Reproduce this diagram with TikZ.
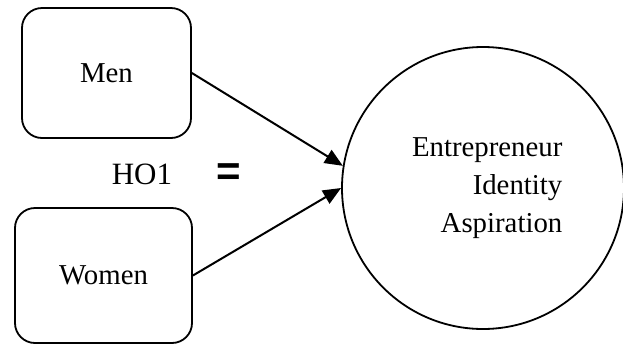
\documentclass[tikz,border=0pt]{standalone}
\usepackage{fontspec}
\setmainfont{Liberation Serif}
\newfontfamily\eqfont{Liberation Sans}
\usetikzlibrary{arrows.meta,positioning}

\begin{document}
\begin{tikzpicture}[x=1pt,y=1pt,->,>={Triangle[length=9pt,width=7.5pt]},line width=1pt,
  every node/.style={font=\fontsize{14.4}{19}\selectfont},
  groupbox/.style={draw,->,rounded corners=10pt,line width=0.9pt,inner sep=0pt}]
\useasboundingbox (0,0) rectangle (311.5,172.5);
\node[groupbox,minimum width=84.5pt,minimum height=65pt] (Men) at (53.25,136) {Men};
\node[groupbox,minimum width=88.5pt,minimum height=67.5pt] (Women) at (51.75,34.75) {Women};
\node[draw,circle,minimum size=141pt,line width=0.9pt] (Aspir) at (241.5,78.5) {};
\node[anchor=east,align=right] (AspirText) at ([xshift=43.5pt]Aspir.center) {Entrepreneur\\Identity\\Aspiration};
\node[font=\fontsize{15.5}{19}\selectfont] (HO) at (71,85.5) {HO1};
\node[font=\eqfont\bfseries\fontsize{21}{21}\selectfont] (Eq) at (114.25,85.25) {=};
\draw (Men.east) -- (Aspir.171);
\draw (Women.east) -- (Aspir.west);
\end{tikzpicture}
\end{document}
